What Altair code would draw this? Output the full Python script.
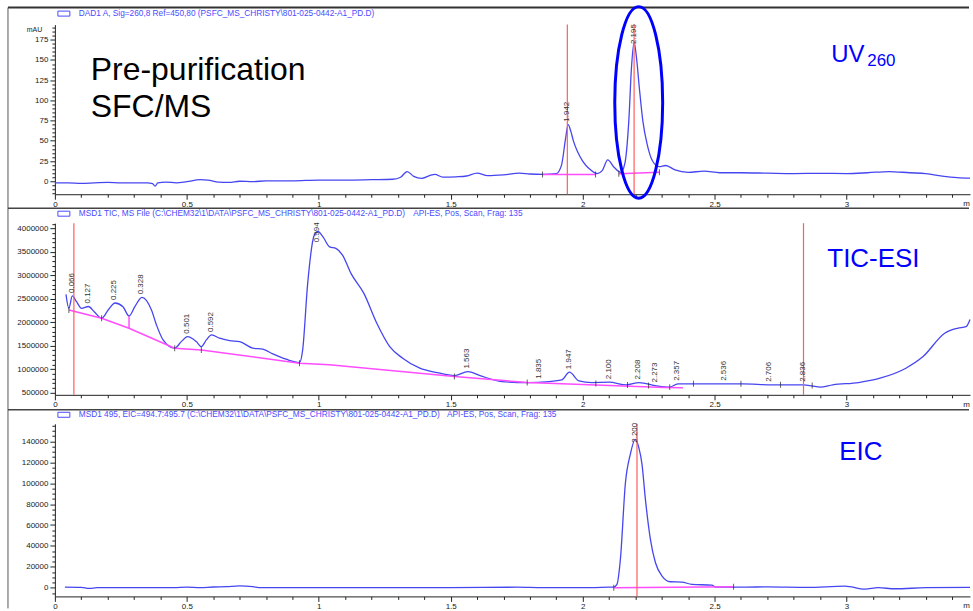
import altair as alt
import numpy as np
import pandas as pd

# ---------------- DAD1 A, Sig=260 (mAU) ----------------
uv_time = [0.00, 0.05, 0.10, 0.15, 0.20, 0.25, 0.30, 0.35, 0.37, 0.38, 0.39, 0.42, 0.46,
           0.50, 0.55, 0.58, 0.62, 0.66, 0.70, 0.75, 0.80, 0.90, 1.00, 1.10, 1.20, 1.28,
           1.31, 1.335, 1.36, 1.39, 1.42, 1.44, 1.47, 1.52, 1.56, 1.60, 1.64, 1.70, 1.76,
           1.80, 1.85, 1.90, 1.92, 1.935, 1.945, 1.955, 1.965, 1.98, 2.00, 2.025, 2.055,
           2.075, 2.095, 2.12, 2.145, 2.16, 2.175, 2.185, 2.195, 2.205, 2.215, 2.228,
           2.245, 2.265, 2.29, 2.315, 2.35, 2.40, 2.46, 2.52, 2.60, 2.70, 2.80, 2.90,
           3.00, 3.08, 3.16, 3.24, 3.30, 3.37, 3.42, 3.468]
uv_mau = [-2, -2, -2.5, -2, -1.5, -2, -2, -2, -3, -6, -2, -1, -2,
          -0.5, 2, 1.5, -1, -1.5, 0, -0.5, 0.5, 0.5, 1.5, 1.5, 2, 2.5,
          5, 12, 6, 3.5, 7, 8.5, 5, 5.5, 6.5, 10, 7, 8, 10,
          9, 8.6, 9.5, 20, 52, 70, 62, 50, 37, 25, 15.5, 9.5,
          13.5, 26.5, 17, 11, 22, 75, 140, 172, 150, 115, 75,
          45, 25, 18, 19.5, 14, 11, 12.5, 10.5, 10.5, 10, 9.5, 9.8,
          9.5, 10.5, 12, 10.5, 9.5, 6, 4.5, 3.8]
uv_base_seg = [1, 1, 2, 2]
uv_base_time = [1.848, 2.049, 2.137, 2.291]
uv_base_mau = [8.5, 8.5, 9.3, 11.0]
uv_marks = [1.942, 2.195]
uv_peak_time = [1.942, 2.195]
uv_peak_text = ["1.942", "2.195"]
uv_peak_mau = [70, 172]

# ---------------- MSD1 TIC ----------------
tic_time = [0.042, 0.053, 0.066, 0.082, 0.101, 0.127, 0.149, 0.177, 0.202, 0.228, 0.258,
            0.281, 0.303, 0.330, 0.366, 0.385, 0.410, 0.454, 0.479, 0.503, 0.536, 0.555,
            0.574, 0.594, 0.624, 0.662, 0.700, 0.750, 0.788, 0.826, 0.876, 0.927, 0.939,
            0.958, 0.983, 0.997, 1.016, 1.041, 1.065, 1.090, 1.122, 1.171, 1.220, 1.269,
            1.318, 1.383, 1.448, 1.514, 1.565, 1.611, 1.693, 1.790, 1.872, 1.921, 1.950,
            1.986, 2.035, 2.100, 2.166, 2.214, 2.280, 2.329, 2.361, 2.475, 2.606, 2.720,
            2.834, 2.900, 2.948, 3.046, 3.127, 3.225, 3.290, 3.372, 3.421, 3.453, 3.468]
tic_counts = [2595000, 2297000, 2560000, 2437000, 2297000, 2335000, 2224000, 2084000,
              2261000, 2410000, 2331000, 2133000, 2331000, 2530000, 2261000, 1941000,
              1622000, 1445000, 1586000, 1692000, 1586000, 1479000, 1622000, 1728000,
              1658000, 1607000, 1586000, 1445000, 1424000, 1324000, 1211000, 1139000,
              1409000, 2829000, 3857000, 3935000, 3821000, 3608000, 3574000, 3432000,
              3042000, 2616000, 1978000, 1479000, 1232000, 1019000, 926000, 862000,
              947000, 862000, 734000, 713000, 734000, 770000, 934000, 749000, 713000,
              720000, 664000, 713000, 643000, 615000, 685000, 685000, 685000, 664000,
              664000, 615000, 664000, 713000, 806000, 1019000, 1266000, 1765000,
              1871000, 1905000, 2060000]
tic_base_time = [0.053, 0.177, 0.281, 0.454, 0.555, 0.927, 1.040, 1.514, 1.790, 2.310, 2.380]
tic_base_counts = [2261000, 2084000, 1871000, 1445000, 1409000, 1126000, 1090000, 841000,
                   713000, 606000, 600000]
tic_drop_time = [0.281, 0.281]
tic_drop_counts = [1871000, 2133000]
tic_marks = [0.072, 2.837]
tic_tick_time = [0.053, 0.177, 0.454, 0.555, 0.927, 1.514, 1.790, 2.050, 2.170,
                 2.250, 2.330, 2.420, 2.600, 2.750, 2.870]
tic_tick_counts = [2261000, 2084000, 1445000, 1409000, 1126000, 841000, 713000,
                   690000, 660000, 650000, 615000, 685000, 685000, 664000, 650000]
tic_peak_time = [0.066, 0.127, 0.225, 0.328, 0.501, 0.592, 0.994, 1.563, 1.835, 1.947,
                 2.100, 2.208, 2.273, 2.357, 2.536, 2.706, 2.836]
tic_peak_text = ["0.066", "0.127", "0.225", "0.328", "0.501", "0.592", "0.994", "1.563",
                 "1.835", "1.947", "2.100", "2.208", "2.273", "2.357", "2.536", "2.706",
                 "2.836"]
tic_peak_counts = [2560000, 2335000, 2410000, 2530000, 1692000, 1728000, 3935000, 947000,
                   730000, 934000, 720000, 713000, 650000, 685000, 685000, 664000, 664000]

# ---------------- MSD1 495, EIC ----------------
eic_time = [0.038, 0.10, 0.13, 0.16, 0.30, 0.45, 0.50, 0.55, 0.60, 0.65, 0.70, 0.75, 0.78,
            1.00, 1.50, 1.75, 1.85, 2.00, 2.10, 2.118, 2.13, 2.143, 2.162, 2.181, 2.199,
            2.213, 2.225, 2.238, 2.257, 2.276, 2.301, 2.332, 2.376, 2.414, 2.49, 2.502,
            2.62, 2.70, 2.85, 2.994, 3.07, 3.12, 3.183, 3.30, 3.468]
eic_counts = [500, 300, -700, 0, 0, 0, 500, 0, 700, 1000, 1800, 1000, 0,
              0, 0, 500, 0, 0, 500, 600, 3150, 27000, 100000, 128000, 142000,
              134000, 118000, 84300, 46100, 23900, 11100, 5700, 5400, 3150, 2500, 600,
              600, 800, 300, 1500, -1400, 0, -1000, 0, 300]
eic_base_time = [2.118, 2.572]
eic_base_counts = [0, 1000]
eic_marks = [2.206]
eic_peak_time = [2.200]
eic_peak_text = ["2.200"]
eic_peak_counts = [142000]

x_ticks = [round(v, 1) for v in np.arange(0, 3.45, 0.1)]
uv_ticks = list(range(-15, 195, 5))
tic_ticks = list(range(500000, 4100001, 100000))
eic_ticks = list(range(-5000, 155001, 5000))

FONT = "Liberation Sans"
TRACE = "#4646f0"
BASE = "#ff4cff"
RED = "#ff5e5e"
HEAD = "#4a4aff"
ANNOT = "#0000ff"
INK = "#222222"

W = 917
X_MAX = 3.468
xscale = alt.Scale(domain=[0, X_MAX], nice=False, zero=False)


def x_axis():
    major = "round(datum.value * 10) % 5 == 0"
    return alt.Axis(values=x_ticks, format="~g", title=None, grid=False,
                    labelExpr=f"({major}) ? datum.label : ''",
                    tickSize={"condition": {"test": major, "value": 5}, "value": 3},
                    labelFontSize=8, labelPadding=1, labelColor=INK, labelFont=FONT,
                    domainColor=INK, tickColor=INK, labelOverlap=False, labelFlush=False)


def y_axis(ticks, step, first, title=None):
    major = f"datum.value % {step} == 0 && datum.value >= {first}"
    kw = dict(values=ticks, format="d", grid=False,
              labelExpr=f"({major}) ? datum.label : ''",
              tickSize={"condition": {"test": major, "value": 5}, "value": 3},
              labelFontSize=8, labelPadding=2, labelColor=INK, labelFont=FONT,
              domainColor=INK, tickColor=INK, labelOverlap=False, labelFlush=False)
    if title:
        kw.update(title=title, titleAngle=0, titleX=-21, titleY=5, titleAlign="center",
                  titleBaseline="middle", titleFontSize=7, titleFontWeight="normal",
                  titleColor=INK, titleFont=FONT)
    else:
        kw.update(title=None)
    return alt.Axis(**kw)


one = pd.DataFrame({"a": [0]})


def pix_rule(x, x2, y, y2, color, width):
    return alt.Chart(one).mark_rule(color=color, strokeWidth=width).encode(
        x=alt.value(x), x2=alt.value(x2), y=alt.value(y), y2=alt.value(y2))


def label(text, x, y, size, color, align="left", baseline="alphabetic"):
    return alt.Chart(one).mark_text(text=text, fontSize=size, font=FONT, color=color,
                                    align=align, baseline=baseline).encode(
        x=alt.value(x), y=alt.value(y))


def header(parts, y):
    layers = [alt.Chart(one).mark_rect(fillOpacity=0, stroke=HEAD, strokeWidth=1).encode(
        x=alt.value(3), x2=alt.value(15), y=alt.value(y - 2.5), y2=alt.value(y + 2.5))]
    for txt, x in parts:
        layers.append(label(txt, x, y, 8.3, HEAD, baseline="middle"))
    return layers


def panel(trace_t, trace_v, yscale, yaxis, height, base_df, marks, peaks_df, cap,
          ticks_df=None, extra=None):
    tr = pd.DataFrame({"t": trace_t, "v": trace_v})
    xa = x_axis()
    # every layer carries the same axis definition so the shared axes merge cleanly
    x_enc = alt.X("t:Q", scale=xscale, axis=xa)
    y_enc = alt.Y("v:Q", scale=yscale, axis=yaxis)
    layers = [
        alt.Chart(tr).mark_line(color=TRACE, strokeWidth=1.3, interpolate="monotone").encode(
            x=x_enc, y=y_enc),
        alt.Chart(base_df).mark_line(color=BASE, strokeWidth=1.5).encode(
            x=x_enc, y=y_enc, detail="seg:N"),
        alt.Chart(pd.DataFrame({"t": marks})).mark_rule(color=RED, strokeWidth=1.2).encode(
            x=x_enc),
    ]
    if ticks_df is not None:
        layers.append(alt.Chart(ticks_df).mark_tick(orient="vertical", size=6, thickness=1,
                                                    color=INK).encode(x=x_enc, y=y_enc))
    pk = peaks_df.assign(v=np.minimum(peaks_df["v"], cap))
    layers.append(alt.Chart(pk).mark_text(angle=270, align="left", baseline="middle", dx=3,
                                          fontSize=8, font=FONT, color="#333333").encode(
        x=x_enc, y=y_enc, text="label:N"))
    layers.append(label("m", W, height + 6, 8, INK, align="right", baseline="top"))
    if extra:
        for lyr in extra:
            layers.append(lyr(x_enc, y_enc) if callable(lyr) else lyr)
    return alt.layer(*layers).properties(width=W, height=height)


# ---- panel 1: UV ----
H1 = 170
uv_scale = alt.Scale(domain=[-16.05, 193.8], nice=False, zero=False)
uv_base = pd.DataFrame({"t": uv_base_time, "v": uv_base_mau, "seg": uv_base_seg})
uv_peaks = pd.DataFrame({"t": uv_peak_time, "v": uv_peak_mau, "label": uv_peak_text})
uv_ticks_df = pd.DataFrame({"t": uv_base_time, "v": uv_base_mau})


def ellipse(x_enc, y_enc):
    # highlight ring round the main 2.195 min peak
    return alt.Chart(pd.DataFrame({"t": [2.2125], "v": [97.5]})).mark_point(
        shape="M0,-1A0.25,1,0,1,1,0,1A0.25,1,0,1,1,0,-1Z", size=36864, filled=False,
        stroke=ANNOT, strokeWidth=3, opacity=1).encode(x=x_enc, y=y_enc)


p1_extra = [
    alt.Chart(one).mark_rect(color="white").encode(
        x=alt.value(-55), x2=alt.value(-54), y=alt.value(-24), y2=alt.value(-23)),
    pix_rule(-47, 916, -17, -17, "#333333", 2),
    pix_rule(-47, -47, -17, 585, "#555555", 1),
    pix_rule(-47, 916, 184, 184, "#444444", 1.5),
    *header([("DAD1 A, Sig=260,8 Ref=450,80 (PSFC_MS_CHRISTY\\801-025-0442-A1_PD.D)", 24)], -11),
    label("Pre-purification", 36, 56, 32, "black"),
    label("SFC/MS", 36, 93, 32, "black"),
    label("UV", 778, 38, 24, ANNOT),
    label("260", 814, 42, 17, ANNOT),
    ellipse,
]
p1 = panel(uv_time, uv_mau, uv_scale, y_axis(uv_ticks, 25, 0, title="mAU"), H1, uv_base,
           uv_marks, uv_peaks, 166, uv_ticks_df, p1_extra)

# ---- panel 2: TIC ----
H2 = 172
tic_scale = alt.Scale(domain=[451000, 4112800], nice=False, zero=False)
tic_base = pd.DataFrame({"t": tic_base_time + tic_drop_time,
                         "v": tic_base_counts + tic_drop_counts,
                         "seg": [1] * len(tic_base_time) + [2, 2]})
tic_peaks = pd.DataFrame({"t": tic_peak_time, "v": tic_peak_counts, "label": tic_peak_text})
tic_ticks_df = pd.DataFrame({"t": tic_tick_time, "v": tic_tick_counts})
p2_extra = [
    pix_rule(-47, 916, 187, 187, "#444444", 1.5),
    *header([("MSD1 TIC, MS File (C:\\CHEM32\\1\\DATA\\PSFC_MS_CHRISTY\\801-025-0442-A1_PD.D)", 24),
             ("API-ES, Pos, Scan, Frag: 135", 359)], -9.5),
    label("TIC-ESI", 774, 44, 26, ANNOT),
]
p2 = panel(tic_time, tic_counts, tic_scale, y_axis(tic_ticks, 500000, 500000), H2, tic_base,
           tic_marks, tic_peaks, 3640000, tic_ticks_df, p2_extra)

# ---- panel 3: EIC ----
H3 = 173
eic_scale = alt.Scale(domain=[-8308, 156910], nice=False, zero=False)
eic_base = pd.DataFrame({"t": eic_base_time, "v": eic_base_counts, "seg": [1, 1]})
eic_peaks = pd.DataFrame({"t": eic_peak_time, "v": eic_peak_counts, "label": eic_peak_text})
eic_ticks_df = pd.DataFrame({"t": eic_base_time, "v": eic_base_counts})
p3_extra = [
    *header([("MSD1 495, EIC=494.7:495.7 (C:\\CHEM32\\1\\DATA\\PSFC_MS_CHRISTY\\801-025-0442-A1_PD.D)", 24),
             ("API-ES, Pos, Scan, Frag: 135", 393)], -9),
    label("EIC", 786, 36, 26, ANNOT),
]
p3 = panel(eic_time, eic_counts, eic_scale, y_axis(eic_ticks, 20000, 0), H3, eic_base,
           eic_marks, eic_peaks, 135900, eic_ticks_df, p3_extra)

chart = alt.vconcat(p1, p2, p3, spacing=29, bounds="flush").properties(
    padding=0, background="white"
).configure_view(stroke=None)

chart.save("out.html", embed_options={"renderer": "svg", "actions": False})
